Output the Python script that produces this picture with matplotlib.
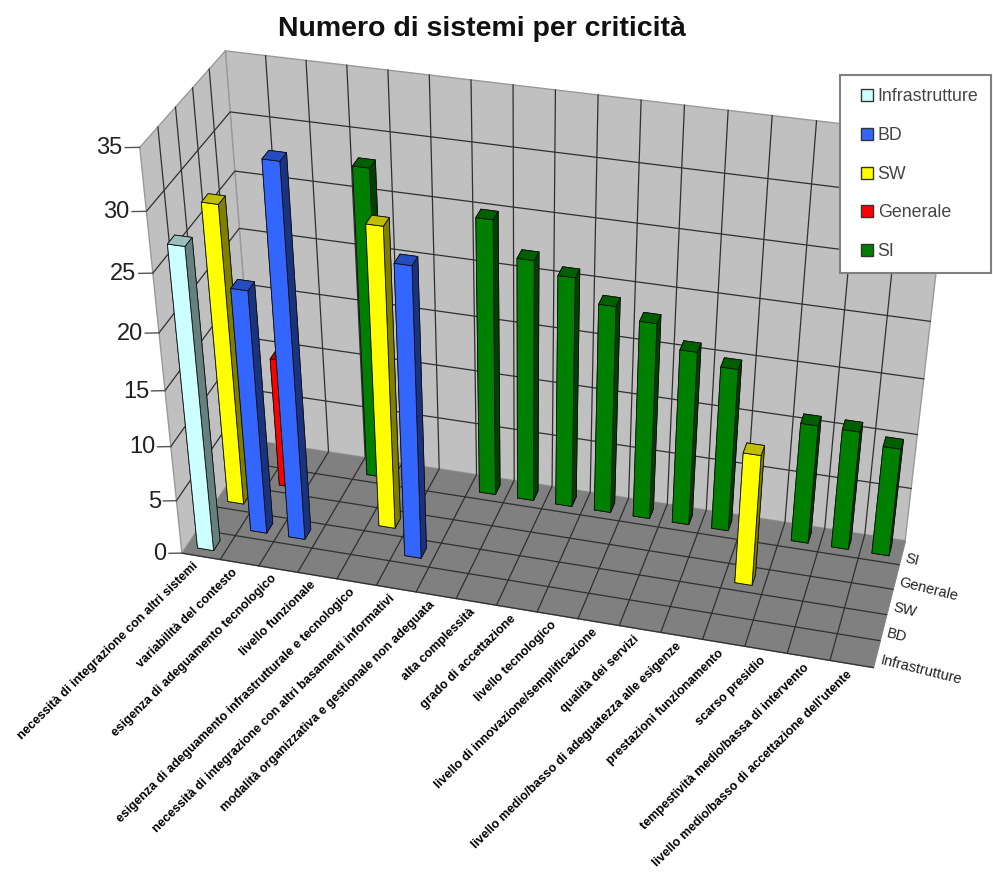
import numpy as np
import matplotlib
matplotlib.use("Agg")
import matplotlib.pyplot as plt
from matplotlib.patches import Patch, Rectangle
from matplotlib.legend_handler import HandlerPatch
from mpl_toolkits.mplot3d.art3d import Poly3DCollection

plt.rcParams['font.family'] = ['Liberation Sans', 'DejaVu Sans']

categories = [
    "necessità di integrazione con altri sistemi", "variabilità del contesto",
    "esigenza di adeguamento tecnologico", "livello funzionale",
    "esigenza di adeguamento infrastrutturale e tecnologico",
    "necessità di integrazione con altri basamenti informativi",
    "modalità organizzativa e gestionale non adeguata", "alta complessità",
    "grado di accettazione", "livello tecnologico",
    "livello di innovazione/semplificazione", "qualità dei servizi",
    "livello medio/basso di adeguatezza alle esigenze", "prestazioni funzionamento",
    "scarso presidio", "tempestività medio/bassa di intervento",
    "livello medio/basso di accettazione dell'utente",
]
series_names = ["Infrastrutture", "BD", "SW", "Generale", "SI"]
infrastrutture = [27, 0, 0, 0, 0, 0, 0, 0, 0, 0, 0, 0, 0, 0, 0, 0, 0]
bd             = [0, 22, 33, 0, 0, 26, 0, 0, 0, 0, 0, 0, 0, 0, 0, 0, 0]
sw             = [27, 0, 0, 0, 27, 0, 0, 0, 0, 0, 0, 0, 0, 12, 0, 0, 0]
generale       = [0, 12, 0, 0, 0, 0, 0, 0, 0, 0, 0, 0, 0, 0, 0, 0, 0]
si             = [0, 0, 0, 28, 0, 0, 25, 22, 21, 19, 18, 16, 15, 0, 11, 11, 10]
z_ticks = [0, 5, 10, 15, 20, 25, 30, 35]

front = ['#CCFFFF', '#3366FF', '#FFFF00', '#FF0000', '#008000']
top   = ['#99BFBF', '#264DBF', '#BFBF00', '#BF0000', '#006000']
side  = ['#668080', '#1A3380', '#808000', '#800000', '#004000']

W, H = 993, 880
nx, ny, zmax = len(categories), len(series_names), z_ticks[-1]

# camera calibration: box corners -> image pixels
world = np.array([(0, 0, 0), (nx, 0, 0), (nx, ny, 0), (0, ny, 0),
                  (0, 0, zmax), (0, ny, zmax), (nx, ny, zmax)], float)
image = np.array([(180, 553), (873, 668), (905, 540), (258, 441),
                  (142, 147), (223, 51), (952, 137)], float)
rows = []
for (X, Y, Z), (u, v) in zip(world, image):
    v = H - v
    rows.append([X, Y, Z, 1, 0, 0, 0, 0, -u*X, -u*Y, -u*Z, -u])
    rows.append([0, 0, 0, 0, X, Y, Z, 1, -v*X, -v*Y, -v*Z, -v])
P = np.linalg.svd(np.array(rows))[2][-1].reshape(3, 4)
P = P / (P[2] @ np.array([nx/2, ny/2, 0, 1]))

def to_fig(x, y, z):
    """Figure-fraction position of a point of the 3D box."""
    u, v, w = P @ np.array([x, y, z, 1.0])
    return u / w / W, v / w / H

fig = plt.figure(figsize=(W/100, H/100), dpi=100, facecolor='white')
ax = fig.add_axes([-0.05, -0.12, 1.1, 1.241], projection='3d', computed_zorder=False)
ax.set_proj_type('ortho')
ax.set_axis_off()
ax.patch.set_visible(False)

def fixed_proj():
    A = ax.transData.inverted().get_matrix() @ P
    return np.vstack([A[0], A[1], P[2] - np.array([0, 0, 0, 10.0]), P[2]])
ax.get_proj = fixed_proj

# walls and floor
wall_c, floor_c, line_c = '#C0C0C0', '#808080', '#303030'
walls = [
    [(0, 0, 0), (0, ny, 0), (0, ny, zmax), (0, 0, zmax)],
    [(0, ny, 0), (nx, ny, 0), (nx, ny, zmax), (0, ny, zmax)],
]
ax.add_collection3d(Poly3DCollection(walls, facecolor=wall_c, edgecolor='#999999',
                                     linewidth=1.0, zorder=1))
ax.add_collection3d(Poly3DCollection([[(0, 0, 0), (nx, 0, 0), (nx, ny, 0), (0, ny, 0)]],
                                     facecolor=floor_c, edgecolor=floor_c, linewidth=0.6, zorder=1))
lk = dict(color=line_c, lw=0.9, zorder=2)
for z in z_ticks[1:-1]:
    ax.plot([0, 0, nx], [0, ny, ny], [z, z, z], **lk)
for i in range(1, nx):
    ax.plot([i, i, i], [0, ny, ny], [0, 0, zmax], **lk)
for j in range(1, ny):
    ax.plot([0, nx], [j, j], [0, 0], **lk)
    ax.plot([0, 0], [j, j], [0, zmax], **lk)
ax.plot([0, nx], [0, 0], [0, 0], **lk)

# z axis
for z in z_ticks:
    ax.plot([-0.30, 0], [-0.09, 0], [z, z], color='#555555', lw=1.0, zorder=2)
    fx, fy = to_fig(-0.36, -0.09, z)
    fig.text(fx, fy - 1/H, str(z), ha='right', va='center', fontsize=17, color='#222222')

# bars: back rows first, left to right inside a row
all_series = [infrastrutture, bd, sw, generale, si]
bw, bd_depth = 0.42, 0.42
order = 3
for r in range(ny - 1, -1, -1):
    for c, val in enumerate(all_series[r]):
        if val <= 0:
            continue
        faces = [front[r], top[r], front[r], side[r], side[r], side[r]]
        ax.bar3d(c + 0.5 - bw/2, r + 0.5 - bd_depth/2, 0, bw, bd_depth, val, color=faces,
                 shade=False, edgecolor='#111111', linewidth=0.6, zorder=order)
        order += 1

# category labels
for c, name in enumerate(categories):
    fx, fy = to_fig(c + 0.52, -0.32, 0)
    fig.text(fx, fy, name, rotation=44.5, rotation_mode='anchor', ha='right', va='center',
             fontsize=9, fontweight='bold', color='black')
# series labels
for r, name in enumerate(series_names):
    fx, fy = to_fig(nx + 0.25, r + 0.5, 0)
    fig.text(fx - 7/W, fy - 4/H, name, rotation=-14, rotation_mode='anchor', ha='left', va='center',
             fontsize=10.5, color='#222222')

fig.text(482/W, 1 - 29/H, "Numero di sistemi per criticità", ha='center', va='center',
         fontsize=20.5, fontweight='bold', color='#111111')

# legend
def swatch(legend, orig_handle, xdescent, ydescent, width, height, fontsize):
    return Rectangle((5.6, 0), 8.6, 8.6)
handles = [Patch(facecolor=front[i], edgecolor='#333333', linewidth=1.0, label=series_names[i])
           for i in range(ny)]
leg = fig.legend(handles=handles, loc='upper left', bbox_to_anchor=(840/W, 1 - 75/H),
                 bbox_transform=fig.transFigure, fontsize=12.8, frameon=True, fancybox=False,
                 edgecolor='#808080', facecolor='white', framealpha=1.0, borderpad=0.72,
                 labelspacing=1.23, handlelength=1.2, handletextpad=0.2, borderaxespad=0,
                 handler_map={Patch: HandlerPatch(patch_func=swatch)}, labelcolor='#444444')
leg.get_frame().set_linewidth(1.5)
leg.set_zorder(100)

fig.savefig('out.png', dpi=100, facecolor='white')
